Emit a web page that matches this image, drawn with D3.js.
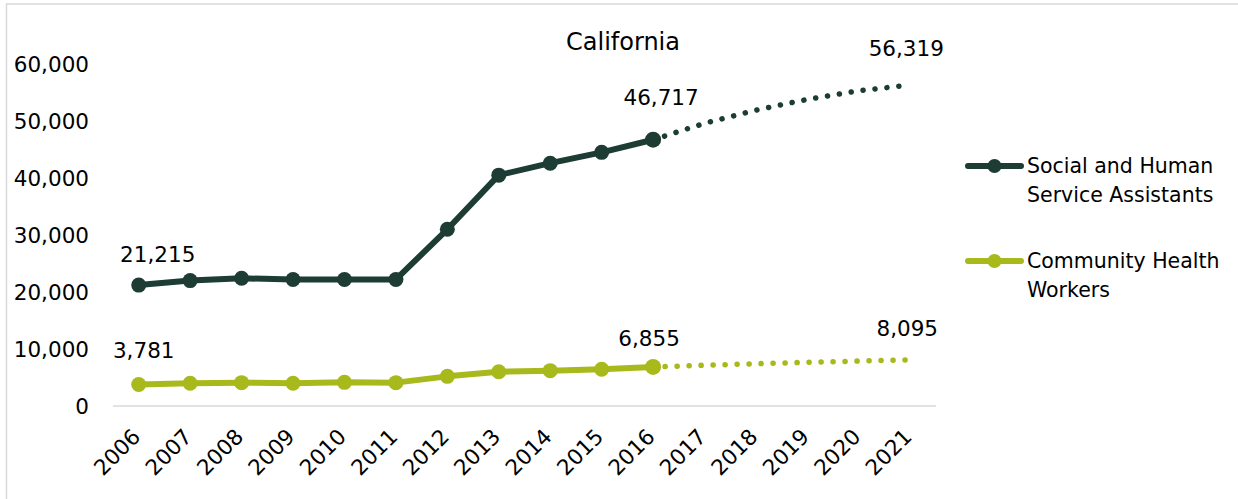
<!DOCTYPE html>
<html>
<head>
<meta charset="utf-8">
<script src="https://cdn.jsdelivr.net/npm/d3@7"></script>
<style>
  html, body { margin: 0; padding: 0; background: #fff; }
  svg { display: block; font-family: "DejaVu Sans", sans-serif; }
</style>
</head>
<body>
<svg id="chart" width="1238" height="499"></svg>
<script>
// years on the x axis
var years = ["2006", "2007", "2008", "2009", "2010", "2011", "2012", "2013",
             "2014", "2015", "2016", "2017", "2018", "2019", "2020", "2021"];
var yTicks = [0, 10000, 20000, 30000, 40000, 50000, 60000];

// actual values 2006-2016
var socialActual = [21215, 22000, 22400, 22200, 22200, 22200, 31000, 40500, 42600, 44500, 46717];
var chwActual = [3781, 3980, 4100, 3980, 4150, 4100, 5200, 6000, 6200, 6450, 6855];
// projections 2016-2021
var socialProjected = [46717, 49600, 51900, 53800, 55300, 56319];
var chwProjected = [6855, 7150, 7420, 7660, 7890, 8095];

var seriesNames = ["Social and Human|Service Assistants", "Community Health|Workers"];
var seriesColors = ["#1d3c34", "#a8b91b"];
// which points get a value label
var labelledYears = ["2006", "2016", "2021"];

(function () {
  var svg = d3.select("#chart");
  var fmt = d3.format(",");

  // outer frame
  svg.append("rect")
    .attr("x", 6.5).attr("y", 4)
    .attr("width", 1300).attr("height", 600)
    .attr("fill", "none")
    .attr("stroke", "#d9d9d9")
    .attr("stroke-width", 1.5);

  var x = d3.scaleBand().domain(years).range([113, 936]);
  var y = d3.scaleLinear().domain([0, 60000]).range([406, 64]);
  var cx = function (yr) { return x(yr) + x.bandwidth() / 2; };

  // baseline
  svg.append("line")
    .attr("x1", 113).attr("x2", 936)
    .attr("y1", y(0)).attr("y2", y(0))
    .attr("stroke", "#d9d9d9").attr("stroke-width", 1.5);

  // y axis labels
  svg.append("g")
    .selectAll("text")
    .data(yTicks)
    .enter()
    .append("text")
    .attr("x", 89)
    .attr("y", function (d) { return y(d); })
    .attr("dy", "0.36em")
    .attr("text-anchor", "end")
    .style("font-size", "21.5px")
    .attr("fill", "#000")
    .text(function (d) { return fmt(d); });

  // x axis labels, rotated
  svg.append("g")
    .selectAll("text")
    .data(years)
    .enter()
    .append("text")
    .attr("transform", function (d) {
      return "translate(" + (cx(d) + 3) + ",438) rotate(-45)";
    })
    .attr("text-anchor", "end")
    .style("font-size", "21.5px")
    .attr("fill", "#000")
    .text(function (d) { return d; });

  // title
  svg.append("text")
    .attr("x", 623).attr("y", 41)
    .attr("dy", "0.36em")
    .attr("text-anchor", "middle")
    .style("font-size", "24px")
    .attr("fill", "#000")
    .text("California");

  var line = d3.line()
    .x(function (d) { return cx(d.year); })
    .y(function (d) { return y(d.value); });

  var allSeries = [
    { actual: socialActual, projected: socialProjected, color: seriesColors[0] },
    { actual: chwActual, projected: chwProjected, color: seriesColors[1] }
  ];
  // small nudges for the value labels (series -> year -> [dx, dy])
  var labelNudge = [
    { "2006": [19, -31], "2016": [8, -42], "2021": [-4, -37] },
    { "2006": [5, -34], "2016": [-4, -29], "2021": [-3, -32] }
  ];

  allSeries.forEach(function (s, si) {
    var actualPts = s.actual.map(function (v, i) { return { year: years[i], value: v }; });
    var projPts = s.projected.map(function (v, i) { return { year: years[i + 10], value: v }; });

    svg.append("path")
      .datum(projPts)
      .attr("d", line)
      .attr("fill", "none")
      .attr("stroke", s.color)
      .attr("stroke-width", 5.5)
      .attr("stroke-linecap", "round")
      .attr("stroke-dasharray", "0.1 11.9");

    svg.append("path")
      .datum(actualPts)
      .attr("d", line)
      .attr("fill", "none")
      .attr("stroke", s.color)
      .attr("stroke-width", 6)
      .attr("stroke-linejoin", "round");

    svg.append("g")
      .selectAll("circle")
      .data(actualPts)
      .enter()
      .append("circle")
      .attr("cx", function (d) { return cx(d.year); })
      .attr("cy", function (d) { return y(d.value); })
      .attr("r", function (d) { return d.year === "2016" ? 8 : 7.5; })
      .attr("fill", s.color);

    var allPts = actualPts.concat(projPts.slice(1));
    svg.append("g")
      .selectAll("text")
      .data(allPts.filter(function (d) { return labelledYears.indexOf(d.year) >= 0; }))
      .enter()
      .append("text")
      .attr("x", function (d) { return cx(d.year) + labelNudge[si][d.year][0]; })
      .attr("y", function (d) { return y(d.value) + labelNudge[si][d.year][1]; })
      .attr("dy", "0.36em")
      .attr("text-anchor", "middle")
      .style("font-size", "21.5px")
      .attr("fill", "#000")
      .text(function (d) { return fmt(d.value); });
  });

  // legend
  var legend = svg.append("g");
  var legendY = [166, 261];
  seriesNames.forEach(function (name, i) {
    var g = legend.append("g").attr("transform", "translate(0," + legendY[i] + ")");
    g.append("line")
      .attr("x1", 968).attr("x2", 1021)
      .attr("y1", 0).attr("y2", 0)
      .attr("stroke", seriesColors[i])
      .attr("stroke-width", 6)
      .attr("stroke-linecap", "round");
    g.append("circle")
      .attr("cx", 994.5).attr("cy", 0).attr("r", 7)
      .attr("fill", seriesColors[i]);
    var t = g.append("text")
      .attr("x", 1027)
      .attr("y", 0)
      .style("font-size", "20.5px")
      .attr("fill", "#000");
    name.split("|").forEach(function (part, j) {
      t.append("tspan")
        .attr("x", 1027)
        .attr("y", j * 28.5)
        .attr("dy", "0.36em")
        .text(part);
    });
  });
})();
</script>
</body>
</html>
